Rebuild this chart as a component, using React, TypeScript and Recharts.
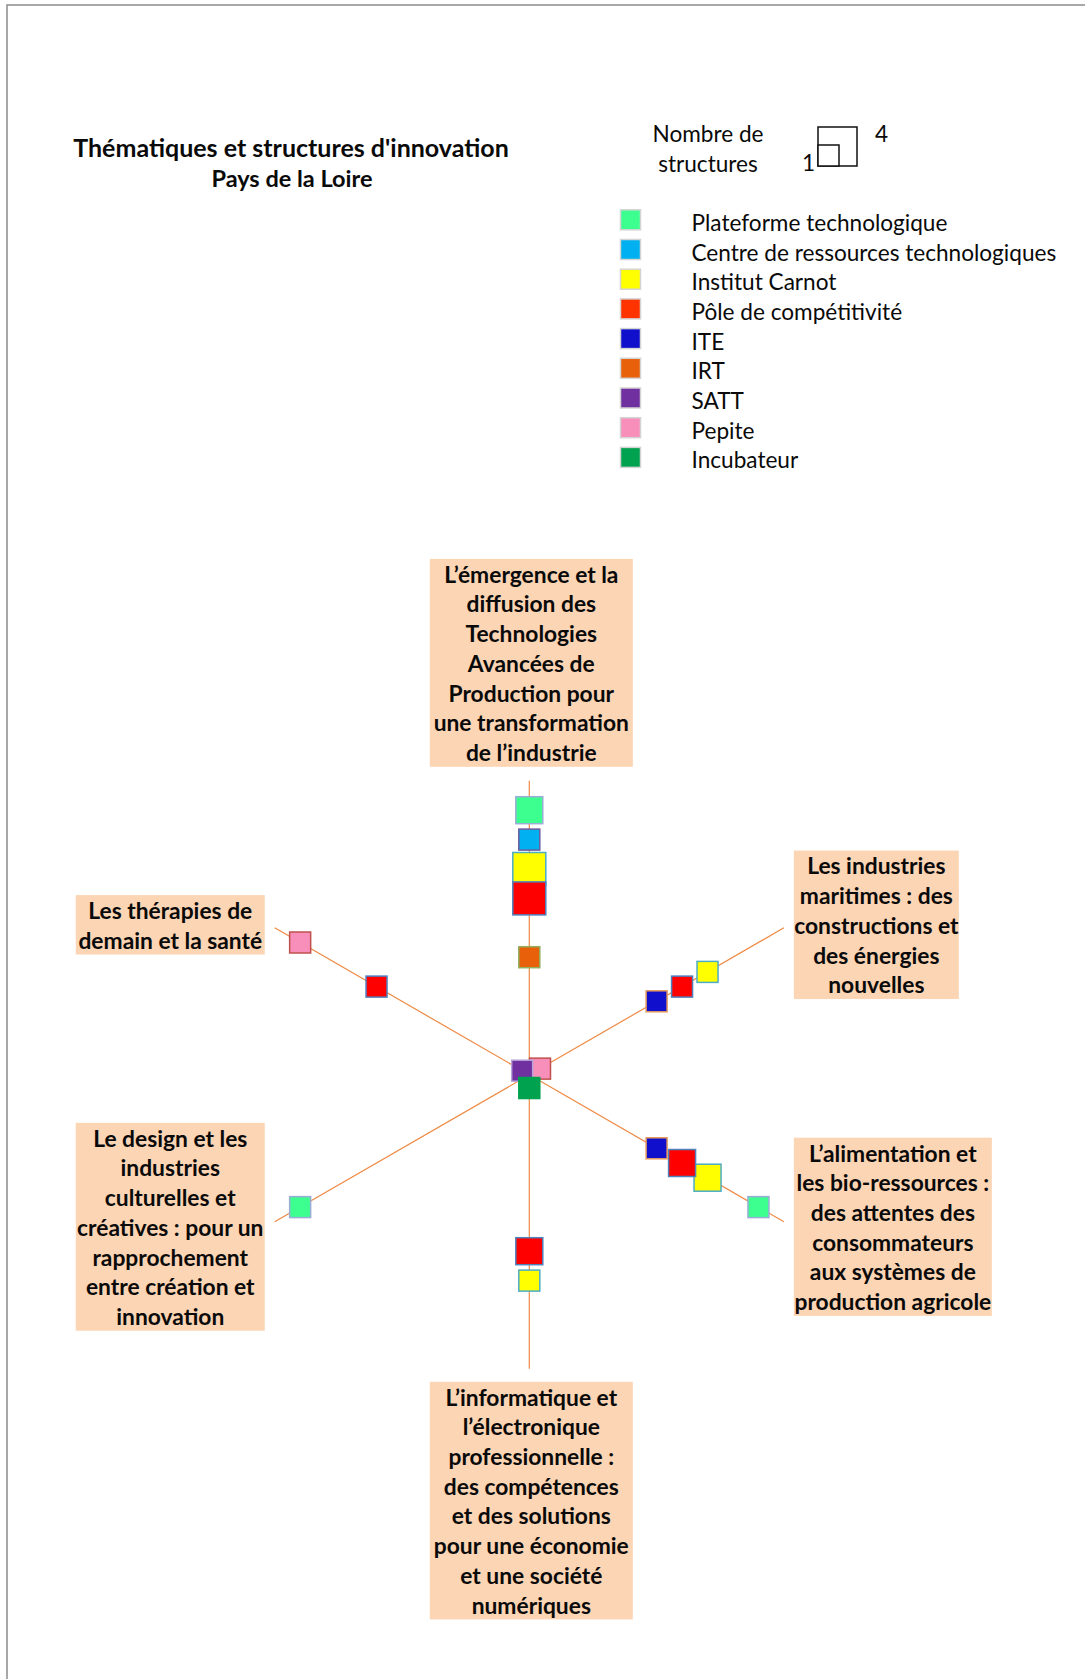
import React from "react";
import { RadarChart, Radar, PolarGrid, PolarAngleAxis, PolarRadiusAxis } from "recharts";

// Thématiques (axes, dans le sens horaire depuis le haut)
const themes = [
  "L’émergence et la\ndiffusion des\nTechnologies\nAvancées de\nProduction pour\nune transformation\nde l’industrie",
  "Les industries\nmaritimes : des\nconstructions et\ndes énergies\nnouvelles",
  "L’alimentation et\nles bio-ressources :\ndes attentes des\nconsommateurs\naux systèmes de\nproduction agricole",
  "L’informatique et\nl’électronique\nprofessionnelle :\ndes compétences\net des solutions\npour une économie\net une société\nnumériques",
  "Le design et les\nindustries\nculturelles et\ncréatives : pour un\nrapprochement\nentre création et\ninnovation",
  "Les thérapies de\ndemain et la santé",
];

const structureNames = [
  "Plateforme technologique",
  "Centre de ressources technologiques",
  "Institut Carnot",
  "Pôle de compétitivité",
  "ITE",
  "IRT",
  "SATT",
  "Pepite",
  "Incubateur",
];

// position sur l'axe (0 = centre, 10 = bout de l'axe), null = absent
const plateformePos = [9, null, 9, null, 9, null];
const crtPos = [8, null, null, null, null, null];
const carnotPos = [7, 7, 7, 7, null, null];
const polePos = [6, 6, 6, 6, null, 6];
const itePos = [null, 5, 5, null, null, null];
const irtPos = [4, null, null, null, null, null];
const sattPos = [null, null, null, null, null, 0.28];
const pepitePos = [null, 0.42, null, null, null, 9];
const incubateurPos = [null, null, null, 0.45, null, null];

// nombre de structures (1 à 4)
const plateformeCount = [2, 0, 1, 0, 1, 0];
const crtCount = [1, 0, 0, 0, 0, 0];
const carnotCount = [3, 1, 2, 1, 0, 0];
const poleCount = [3, 1, 2, 2, 0, 1];
const iteCount = [0, 1, 1, 0, 0, 0];
const irtCount = [1, 0, 0, 0, 0, 0];
const sattCount = [0, 0, 0, 0, 0, 1];
const pepiteCount = [0, 1, 0, 0, 0, 1];
const incubateurCount = [0, 0, 0, 1, 0, 0];

const sizeLegend = [1, 4];

const positions = [plateformePos, crtPos, carnotPos, polePos, itePos, irtPos, sattPos, pepitePos, incubateurPos];
const counts = [plateformeCount, crtCount, carnotCount, poleCount, iteCount, irtCount, sattCount, pepiteCount, incubateurCount];

const fills = ["#3DFF8F", "#00B0F0", "#FFFF00", "#FF0000", "#1010CC", "#E8600A", "#7030A0", "#F78FBA", "#00A24F"];
const strokes = ["#9BADD6", "#6B5B9E", "#4BACC6", "#4F81BD", "#E59A5E", "#93AE5C", "#B7A3D6", "#C0504D", "#00A24F"];
const legendFills = ["#3DFF8F", "#00B0F0", "#FFFF00", "#FF3300", "#1010CC", "#E8600A", "#7030A0", "#F78FBA", "#00A24F"];
const drawOrder = [0, 1, 2, 3, 4, 5, 7, 6, 8];

const W = 1085;
const H = 1679;
const CX = 529.3;
const CY = 1074.8;
const R = 294;
const LINE = 29.7;
const FONT = "Lato, 'Open Sans', sans-serif";
const boxWidths = [203, 165, 198, 203, 189, 189];

const side = (n: number) => 15 + 6 * n;

const data = themes.map((theme, i) => {
  const row: any = { theme };
  positions.forEach((p, k) => {
    row[`s${k}`] = p[i];
  });
  return row;
});

const makeDot = (k: number) => (props: any) => {
  const { cx, cy, index } = props;
  const n = counts[k][index];
  const key = `dot-${k}-${index}`;
  if (!n || !Number.isFinite(cx) || !Number.isFinite(cy)) return <g key={key} />;
  const s = side(n);
  return (
    <rect
      key={key}
      x={cx - s / 2}
      y={cy - s / 2}
      width={s}
      height={s}
      fill={fills[k]}
      stroke={strokes[k]}
      strokeWidth={1.5}
    />
  );
};

const ThemeTick = (props: any) => {
  const { x, y, index, payload } = props;
  const lines = String(payload.value).split("\n");
  const w = boxWidths[index] ?? 190;
  const h = lines.length * LINE;
  let left: number;
  let top: number;
  if (Math.abs(x - CX) < 2) {
    left = x - w / 2 + 2;
    top = y < CY ? y - 6 - h : y + 5;
  } else {
    left = x > CX ? x + 3 : x - 3 - w;
    top = y - h / 2 + 1;
  }
  return (
    <g>
      <rect x={left} y={top} width={w} height={h} fill="#FCD5B4" />
      {lines.map((line, i) => (
        <text
          key={i}
          x={left + w / 2}
          y={top + LINE / 2 + i * LINE}
          textAnchor="middle"
          dominantBaseline="central"
          fontFamily={FONT}
          fontWeight="bold"
          fontSize={22.8}
          fill="#0A0A0A"
        >
          {line}
        </text>
      ))}
    </g>
  );
};

function Overlay() {
  const rowY = (i: number) => 222.3 + i * LINE;
  const legendFont = 22.6;
  return (
    <svg width={W} height={H} style={{ position: "absolute", left: 0, top: 0, pointerEvents: "none" }}>
      <path d={`M7,${H} L7,5 L${W},5`} fill="none" stroke="#8C8C8C" strokeWidth={1.5} />
      <text x={291} y={147} textAnchor="middle" dominantBaseline="central" fontFamily={FONT} fontWeight="bold" fontSize={25} fill="#0A0A0A">
        Thématiques et structures d'innovation
      </text>
      <text x={292} y={178} textAnchor="middle" dominantBaseline="central" fontFamily={FONT} fontWeight="bold" fontSize={23.5} fill="#0A0A0A">
        Pays de la Loire
      </text>

      <text x={708} y={133} textAnchor="middle" dominantBaseline="central" fontFamily={FONT} fontSize={legendFont} fill="#0A0A0A">
        Nombre de
      </text>
      <text x={708} y={163} textAnchor="middle" dominantBaseline="central" fontFamily={FONT} fontSize={legendFont} fill="#0A0A0A">
        structures
      </text>
      {[...sizeLegend].reverse().map((n) => (
        <rect key={n} x={818} y={166 - side(n)} width={side(n)} height={side(n)} fill="#fff" stroke="#111" strokeWidth={1.5} />
      ))}
      <text x={815} y={162} textAnchor="end" dominantBaseline="central" fontFamily={FONT} fontSize={legendFont} fill="#0A0A0A">
        {sizeLegend[0]}
      </text>
      <text x={875} y={133} dominantBaseline="central" fontFamily={FONT} fontSize={legendFont} fill="#0A0A0A">
        {sizeLegend[1]}
      </text>

      {structureNames.map((name, i) => (
        <g key={name}>
          <rect x={620.5} y={rowY(i) - 2.5 - 10} width={20} height={20} fill={legendFills[i]} stroke="#D4D4D4" strokeWidth={1.5} />
          <text x={691.5} y={rowY(i)} dominantBaseline="central" fontFamily={FONT} fontSize={legendFont} fill="#0A0A0A">
            {name}
          </text>
        </g>
      ))}
    </svg>
  );
}

export default function App() {
  return (
    <div style={{ position: "absolute", left: 0, top: 0, width: W, height: H, background: "#fff" }}>
      <RadarChart
        width={W}
        height={H}
        data={data}
        cx={CX}
        cy={CY}
        outerRadius={R}
        margin={{ top: 0, right: 0, bottom: 0, left: 0 }}
      >
        <PolarGrid gridType="polygon" polarRadius={[0]} stroke="#EE8A44" strokeWidth={1.2} />
        <PolarRadiusAxis domain={[0, 10]} type="number" tick={false} axisLine={false} />
        <PolarAngleAxis dataKey="theme" tick={<ThemeTick />} tickLine={false} axisLine={false} />
        {drawOrder.map((k) => (
          <Radar
            key={k}
            name={structureNames[k]}
            dataKey={`s${k}`}
            fill="none"
            stroke="none"
            dot={makeDot(k)}
            isAnimationActive={false}
          />
        ))}
      </RadarChart>
      <Overlay />
    </div>
  );
}
